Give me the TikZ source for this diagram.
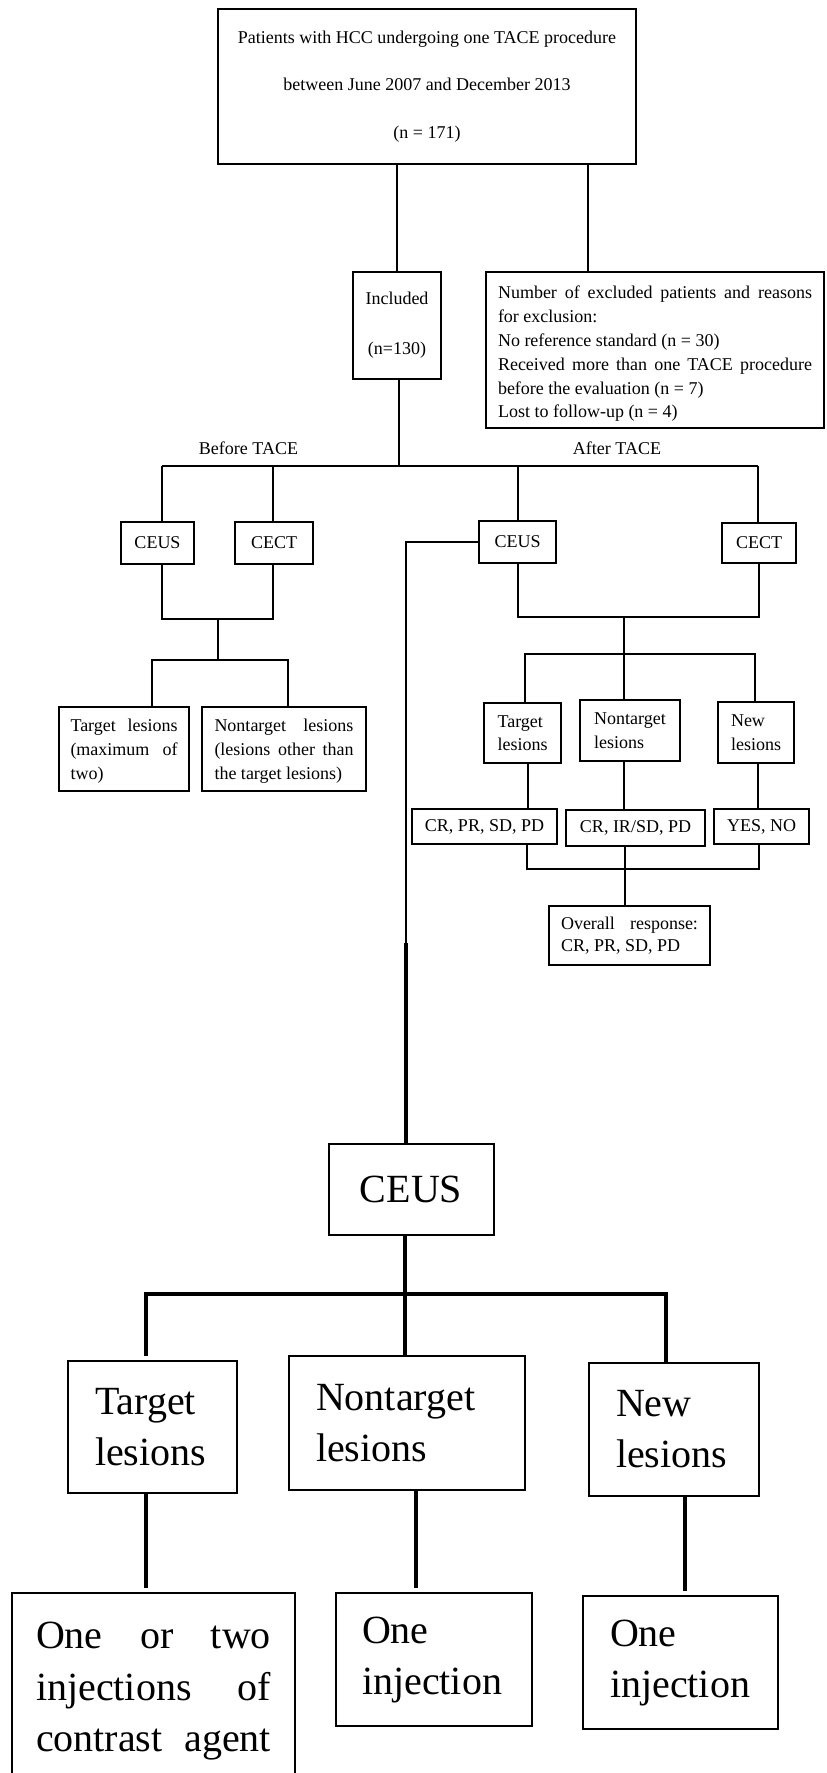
\documentclass[tikz,border=0pt]{standalone}
\usepackage{fontspec}
\setmainfont{Liberation Serif}
\begin{document}
\begin{tikzpicture}[x=1pt,y=-1pt,
  box/.style={draw, line width=1.2pt, inner sep=0pt, font=\fontsize{18}{23.5}\selectfont},
  bigbox/.style={draw, line width=2pt, inner ysep=0pt, inner xsep=27pt, align=left, font=\fontsize{40}{51}\selectfont},
  thinline/.style={line width=1.3pt, line join=miter},
  heavyline/.style={line width=3.5pt, line join=miter},
  lbl/.style={inner sep=0pt, font=\fontsize{18}{22}\selectfont}
]
\clip (0,0) rectangle (827,1773);
\useasboundingbox (0,0) rectangle (827,1773);

% ---------- top part ----------
\node[box, minimum width=418pt, minimum height=155pt, align=center,
      font=\fontsize{18}{47.5}\selectfont] (top) at (427,86.5)
  {Patients with HCC undergoing one TACE procedure\\between June 2007 and December 2013\\(n = 171)};

\node[box, minimum width=88pt, minimum height=107pt, align=center,
      font=\fontsize{18}{50}\selectfont] (incl) at (397,325.5) {Included\\(n=130)};

\node[box, minimum width=338pt, minimum height=156pt] (excl) at (655,350)
  {\raisebox{-4pt}[\height][\depth]{\parbox{314pt}{\fontsize{18}{23.8}\selectfont Number of excluded patients and reasons\linebreak for exclusion:\newline No reference standard (n = 30)\newline Received more than one TACE procedure\linebreak before the evaluation (n = 7)\newline Lost to follow-up (n = 4)}}};

\node[lbl] (before) at (248.5,448) {Before TACE};
\node[lbl] (after) at (617,448) {After TACE};

\node[box, minimum width=73pt, minimum height=42pt] (bceus) at (157.5,543) {CEUS};
\node[box, minimum width=78pt, minimum height=42pt] (bcect) at (274,543) {CECT};
\node[box, minimum width=77pt, minimum height=42pt] (aceus) at (517.5,542) {CEUS};
\node[box, minimum width=74pt, minimum height=40pt] (acect) at (759,543) {CECT};

\node[box, minimum width=130pt, minimum height=84pt] (btgt) at (124,749)
  {\raisebox{-2pt}[\height][\depth]{\parbox{107pt}{\fontsize{18}{24}\selectfont Target lesions\linebreak (maximum of\linebreak two)}}};
\node[box, minimum width=164pt, minimum height=84pt] (bntg) at (284,749)
  {\raisebox{-2pt}[\height][\depth]{\parbox{139pt}{\fontsize{18}{24}\selectfont Nontarget lesions\linebreak (lesions other than\linebreak the target lesions)}}};

\node[box, minimum width=77pt, minimum height=60pt, align=left] (atgt) at (522.5,733) {Target\\lesions};
\node[box, minimum width=100pt, minimum height=61pt, align=left] (antg) at (630,730.5) {Nontarget\\lesions};
\node[box, minimum width=76pt, minimum height=61pt, align=left] (anew) at (756,732.5) {New\\lesions};

\node[box, minimum width=145pt, minimum height=35pt] (res1) at (484.5,826.5) {CR, PR, SD, PD};
\node[box, minimum width=139pt, minimum height=36pt] (res2) at (635.5,828) {CR, IR/SD, PD};
\node[box, minimum width=95pt, minimum height=35pt] (res3) at (761.5,826.5) {YES, NO};

\node[box, minimum width=161pt, minimum height=59pt] (overall) at (629.5,935.5)
  {\parbox{137pt}{\fontsize{18}{22}\selectfont Overall response:\linebreak CR, PR, SD, PD}};

% ---------- bottom part ----------
\node[draw, line width=2pt, inner sep=0pt, minimum width=165pt, minimum height=91pt,
      font=\fontsize{40}{51}\selectfont] (bigceus) at (411,1189.5) {CEUS};

\node[bigbox, text width=115pt, minimum height=132pt] (ttgt) at (152.5,1427) {Target\\lesions};
\node[bigbox, text width=182pt, minimum height=134pt] (tntg) at (407,1423) {Nontarget\\lesions};
\node[bigbox, text width=116pt, minimum height=133pt] (tnew) at (674,1429.5) {New\\lesions};

\node[draw, line width=2pt, inner sep=0pt, minimum width=283pt, minimum height=191pt] (inj1) at (153.5,1688.5)
  {\raisebox{-3pt}[\height][\depth]{\parbox{235pt}{\fontsize{40}{51.5}\selectfont\parfillskip=0pt One or two\linebreak injections of\linebreak contrast agent}}};
\node[bigbox, inner xsep=26pt, text width=144pt, minimum height=133pt] (inj2) at (434,1659.5) {One\\injection};
\node[bigbox, inner xsep=27pt, text width=141pt, minimum height=133pt] (inj3) at (680.5,1662.5) {One\\injection};

% ---------- helper coordinates ----------
\coordinate (xr) at (588,0);
\coordinate (j0) at (399,466);
\coordinate (barL) at (162,466);
\coordinate (barR) at (758,466);
\coordinate (d2) at (273,466);
\coordinate (d3) at (518,466);

\coordinate (b1) at (162,619);
\coordinate (b2) at (273,619);
\coordinate (b3) at (218,619);
\coordinate (b4) at (218,660);
\coordinate (b5) at (152,660);
\coordinate (b6) at (288,660);

\coordinate (a1) at (518,617);
\coordinate (a2) at (759,617);
\coordinate (a3) at (624,617);
\coordinate (a4) at (624,654);
\coordinate (a5) at (525,654);
\coordinate (a6) at (755,654);

\coordinate (r1) at (528,0);
\coordinate (r2) at (624,0);
\coordinate (r3) at (758,0);
\coordinate (j1) at (527,869);
\coordinate (j2) at (759,869);
\coordinate (j3) at (625,869);

\coordinate (k1) at (406,542);
\coordinate (k2) at (406,943);

\coordinate (m0) at (405,1294);
\coordinate (mL) at (146,1294);
\coordinate (mR) at (666,1294);
\coordinate (n1) at (146,0);
\coordinate (n2) at (416,0);
\coordinate (n3) at (685,0);

% ---------- connectors ----------
\draw[thinline] (incl.north |- top.south) -- (incl.north);
\draw[thinline] (top.south -| xr) -- (excl.north -| xr);
\draw[thinline] (incl.south -| j0) -- (j0);
\draw[thinline] (barL) -- (barR);
\draw[thinline] (barL) -- (barL |- bceus.north);
\draw[thinline] (d2) -- (d2 |- bcect.north);
\draw[thinline] (d3) -- (d3 |- aceus.north);
\draw[thinline] (barR) -- (barR |- acect.north);

\draw[thinline] (b1 |- bceus.south) -- (b1) -- (b2) -- (b2 |- bcect.south);
\draw[thinline] (b3) -- (b4);
\draw[thinline] (b5 |- btgt.north) -- (b5) -- (b6) -- (b6 |- bntg.north);

\draw[thinline] (a1 |- aceus.south) -- (a1) -- (a2) -- (a2 |- acect.south);
\draw[thinline] (a3) -- (a4);
\draw[thinline] (a5 |- atgt.north) -- (a5) -- (a6) -- (a6 |- anew.north);
\draw[thinline] (a4) -- (a4 |- antg.north);

\draw[thinline] (atgt.south -| r1) -- (res1.north -| r1);
\draw[thinline] (antg.south -| r2) -- (res2.north -| r2);
\draw[thinline] (anew.south -| r3) -- (res3.north -| r3);
\draw[thinline] (res1.south -| j1) -- (j1) -- (j2) -- (res3.south -| j2);
\draw[thinline] (res2.south -| j3) -- (overall.north -| j3);

\draw[thinline] (aceus.west) -- (k1) -- (k2);
\draw[heavyline] (k2) -- (bigceus.north -| k2);

\draw[heavyline] (bigceus.south -| m0) -- (m0);
\draw[heavyline, shorten <=4pt] (ttgt.north -| mL) -- (mL) -- (mR) -- (tnew.north -| mR);
\draw[heavyline] (m0) -- (m0 |- tntg.north);

\draw[heavyline, shorten >=4pt] (ttgt.south -| n1) -- (inj1.north -| n1);
\draw[heavyline, shorten >=4pt] (tntg.south -| n2) -- (inj2.north -| n2);
\draw[heavyline, shorten >=4pt] (tnew.south -| n3) -- (inj3.north -| n3);
\end{tikzpicture}
\end{document}
